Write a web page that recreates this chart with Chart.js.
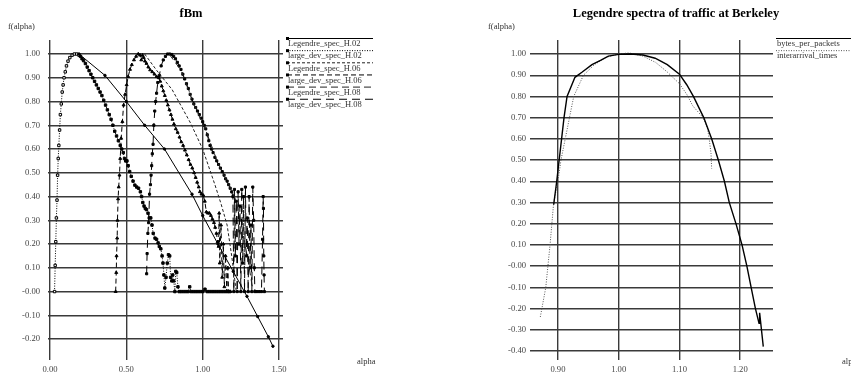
<!DOCTYPE html>
<html>
<head>
<meta charset="utf-8">
<script src="https://cdn.jsdelivr.net/npm/chart.js@4.4.0/dist/chart.umd.min.js"></script>
<style>
  html, body { margin: 0; padding: 0; background: #fff; }
  #wrap { position: relative; width: 851px; height: 378px; overflow: hidden; }
  canvas { position: absolute; top: 0; }
  #left { left: 0; }
  #right { left: 430px; }
</style>
</head>
<body>
<div id="wrap">
  <canvas id="left" width="430" height="378"></canvas>
  <canvas id="right" width="421" height="378"></canvas>
</div>
<script>
// ---- fBm panel ----
const fbmXTicks = [0, 0.5, 1.0, 1.5]
const fbmXLabels = ['0.00', '0.50', '1.00', '1.50']
const fbmYTicks = [-0.2, -0.1, 0, 0.1, 0.2, 0.3, 0.4, 0.5, 0.6, 0.7, 0.8, 0.9, 1.0]
const fbmYLabels = ['-0.20', '-0.10', '-0.00', '0.10', '0.20', '0.30', '0.40', '0.50', '0.60', '0.70', '0.80', '0.90', '1.00']

const legendreH02 = [[0.19,1.0],[0.36,0.91],[0.50,0.80],[0.62,0.70],[0.75,0.60],[0.93,0.41],[1.00,0.32],
  [1.10,0.20],[1.20,0.085],[1.29,-0.02],[1.36,-0.105],[1.43,-0.19],[1.46,-0.23]]

const largeDevH02 = [[0.030,0.00],[0.034,0.11],[0.038,0.21],[0.042,0.31],[0.046,0.385],[0.050,0.49],[0.054,0.56],
  [0.058,0.615],[0.063,0.68],[0.068,0.745],[0.074,0.79],[0.080,0.84],[0.086,0.87],[0.092,0.90],[0.100,0.925],
  [0.108,0.95],[0.118,0.97],[0.130,0.985],[0.145,0.995],[0.160,1.0],[0.175,1.0],[0.190,0.995],[0.200,0.99],
  [0.210,0.98],[0.220,0.972],[0.232,0.96],[0.244,0.945],[0.256,0.93],[0.268,0.915],[0.280,0.90],[0.292,0.885],
  [0.304,0.87],[0.316,0.855],[0.328,0.84],[0.340,0.825],[0.352,0.805],[0.364,0.785],[0.376,0.765],[0.388,0.745],
  [0.400,0.725],[0.412,0.70],[0.424,0.675],[0.436,0.655],[0.448,0.635],[0.460,0.615],[0.470,0.60],[0.480,0.585],
  [0.488,0.56],[0.496,0.55],[0.504,0.55],[0.512,0.53],[0.522,0.505],[0.532,0.485],[0.544,0.465],[0.556,0.448],
  [0.568,0.44],[0.580,0.435],[0.592,0.42],[0.600,0.40],[0.608,0.375],[0.616,0.36],[0.624,0.35],[0.632,0.345],
  [0.642,0.33],[0.650,0.31],[0.660,0.31],[0.668,0.28],[0.676,0.245],[0.688,0.225],[0.698,0.22],[0.708,0.205],
  [0.716,0.19],[0.726,0.18],[0.734,0.15],[0.740,0.12],[0.746,0.07],[0.752,0.015],[0.760,0.06],[0.768,0.12],
  [0.776,0.155],[0.784,0.15],[0.790,0.06],[0.798,0.045],[0.804,0.07],[0.810,0.045],[0.818,0.0],[0.824,0.085],
  [0.830,0.08],[0.838,0.02],[0.846,0.0],[0.860,0.0],[0.875,0.0],[0.890,0.0],[0.905,0.0],[0.915,0.02],[0.925,0.0],
  [0.940,0.0],[0.955,0.0],[0.970,0.0],[0.985,0.0],[1.000,0.0],[1.015,0.01],[1.030,0.0],[1.045,0.0],[1.060,0.0],
  [1.075,0.0],[1.090,0.0],[1.105,0.0],[1.120,0.0],[1.135,0.0],[1.150,0.0],[1.165,0.0],[1.178,0.0]]

const legendreH06 = [[0.62,1.0],[0.70,0.93],[0.80,0.85],[0.92,0.71],[1.00,0.60],[1.08,0.45],[1.12,0.37],
  [1.16,0.28],[1.19,0.15],[1.21,0.05],[1.22,0.0]]

const largeDevH06 = [[0.430,0.0],[0.434,0.08],[0.436,0.15],[0.440,0.225],[0.442,0.30],[0.446,0.39],[0.450,0.44],
  [0.455,0.49],[0.460,0.56],[0.466,0.645],[0.474,0.715],[0.482,0.785],[0.492,0.83],[0.502,0.87],[0.512,0.905],
  [0.524,0.935],[0.536,0.955],[0.550,0.975],[0.564,0.99],[0.578,1.0],[0.590,0.995],[0.598,0.975],[0.606,0.995],
  [0.614,0.985],[0.622,0.97],[0.632,0.96],[0.644,0.945],[0.656,0.933],[0.670,0.925],[0.684,0.915],[0.698,0.905],
  [0.712,0.90],[0.722,0.885],[0.732,0.865],[0.742,0.845],[0.752,0.825],[0.762,0.805],[0.772,0.785],[0.782,0.765],
  [0.792,0.745],[0.802,0.725],[0.812,0.705],[0.824,0.685],[0.836,0.67],[0.848,0.65],[0.860,0.63],[0.872,0.615],
  [0.884,0.595],[0.896,0.575],[0.908,0.555],[0.920,0.535],[0.932,0.52],[0.944,0.50],[0.954,0.48],[0.964,0.46],
  [0.974,0.44],[0.982,0.42],[0.992,0.41],[1.004,0.405],[1.014,0.38],[1.024,0.335],[1.034,0.33],[1.044,0.33],
  [1.054,0.32],[1.064,0.305],[1.074,0.29],[1.082,0.27],[1.090,0.245],[1.098,0.21],[1.104,0.19],[1.108,0.33],
  [1.112,0.12],[1.120,0.28],[1.128,0.06],[1.135,0.20],[1.142,0.02],[1.150,0.15],[1.158,0.0],[1.165,0.10],
  [1.170,0.0],[1.180,0.0]]

const legendreH08 = [[0.78,1.0],[0.86,0.93],[0.94,0.79],[1.02,0.68],[1.10,0.54],[1.18,0.44],[1.22,0.38],
  [1.26,0.26],[1.30,0.12],[1.33,0.0]]

const largeDevH08 = [[0.633,0.075],[0.636,0.16],[0.641,0.245],[0.646,0.29],[0.652,0.41],[0.658,0.45],[0.662,0.49],
  [0.666,0.53],[0.670,0.58],[0.675,0.62],[0.680,0.70],[0.686,0.76],[0.692,0.80],[0.698,0.835],[0.706,0.88],
  [0.716,0.91],[0.728,0.95],[0.742,0.975],[0.756,0.99],[0.770,1.0],[0.784,1.0],[0.798,0.998],[0.810,0.99],
  [0.822,0.98],[0.834,0.965],[0.846,0.95],[0.858,0.935],[0.870,0.915],[0.882,0.895],[0.894,0.875],[0.906,0.855],
  [0.918,0.83],[0.930,0.81],[0.942,0.79],[0.954,0.775],[0.966,0.76],[0.978,0.745],[0.990,0.73],[1.000,0.715],
  [1.010,0.70],[1.020,0.685],[1.030,0.66],[1.040,0.635],[1.048,0.615],[1.058,0.60],[1.068,0.585],[1.080,0.565],
  [1.092,0.55],[1.104,0.535],[1.116,0.52],[1.128,0.505],[1.140,0.49],[1.150,0.475],[1.160,0.465],[1.170,0.45],
  [1.180,0.435],[1.190,0.42],[1.198,0.40],[1.204,0.0],[1.208,0.43],[1.214,0.15],[1.220,0.38],[1.226,0.0],
  [1.232,0.42],[1.238,0.20],[1.244,0.36],[1.250,0.0],[1.256,0.43],[1.262,0.12],[1.268,0.40],[1.274,0.0],
  [1.280,0.44],[1.286,0.15],[1.292,0.31],[1.298,0.0],[1.304,0.40],[1.310,0.10],[1.316,0.28],[1.322,0.0],
  [1.328,0.44],[1.334,0.30],[1.338,0.10],[1.342,0.0],[1.355,0.0],[1.370,0.0],[1.385,0.0],[1.392,0.22],
  [1.396,0.40],[1.398,0.35],[1.400,0.15],[1.402,0.07],[1.404,0.0]]

// ---- Berkeley panel ----
const berkXTicks = [0.9, 1.0, 1.1, 1.2]
const berkXLabels = ['0.90', '1.00', '1.10', '1.20']
const berkYTicks = [-0.4, -0.3, -0.2, -0.1, 0, 0.1, 0.2, 0.3, 0.4, 0.5, 0.6, 0.7, 0.8, 0.9, 1.0]
const berkYLabels = ['-0.40', '-0.30', '-0.20', '-0.10', '-0.00', '0.10', '0.20', '0.30', '0.40', '0.50', '0.60', '0.70', '0.80', '0.90', '1.00']

const bytesPerPackets = [[0.893,0.29],[0.898,0.40],[0.902,0.50],[0.906,0.60],[0.910,0.70],[0.915,0.80],
  [0.928,0.89],[0.940,0.915],[0.956,0.95],[0.970,0.97],[0.983,0.99],[1.000,0.998],[1.020,1.0],[1.040,0.995],
  [1.060,0.98],[1.080,0.95],[1.100,0.905],[1.112,0.855],[1.123,0.80],[1.140,0.70],[1.153,0.60],[1.164,0.50],
  [1.174,0.40],[1.182,0.30],[1.193,0.20],[1.203,0.10],[1.211,0.0],[1.218,-0.10],[1.225,-0.20],[1.231,-0.27],
  [1.232,-0.22],[1.238,-0.38]]

const interarrivalTimes = [[0.871,-0.24],[0.880,-0.10],[0.887,0.10],[0.893,0.30],[0.900,0.40],[0.905,0.50],
  [0.912,0.60],[0.919,0.70],[0.926,0.80],[0.942,0.90],[0.960,0.95],[0.980,0.985],[1.000,1.0],[1.017,1.005],
  [1.040,0.99],[1.061,0.96],[1.080,0.915],[1.100,0.86],[1.112,0.81],[1.122,0.755],[1.139,0.70],[1.146,0.65],
  [1.149,0.60],[1.152,0.53],[1.153,0.46]]

const SERIF = "'Liberation Serif', 'DejaVu Serif', serif"

function series(label, pts, style) {
  return Object.assign({
    label: label,
    data: pts.map(p => ({ x: p[0], y: p[1] })),
    showLine: true,
    borderColor: '#000',
    backgroundColor: '#000',
    borderWidth: 1,
    pointRadius: 0,
    tension: 0
  }, style)
}

// titles, axis names and the line-over-text legend
const decor = {
  id: 'decor',
  afterDraw(chart, args, opts) {
    const ctx = chart.ctx
    ctx.save()
    ctx.fillStyle = '#000'
    ctx.font = 'bold 12.5px ' + SERIF
    ctx.textAlign = 'center'
    ctx.textBaseline = 'middle'
    ctx.fillText(opts.title, opts.titleX, 14)

    ctx.font = '8.5px ' + SERIF
    ctx.fillStyle = '#333'
    ctx.textAlign = 'left'
    ctx.fillText('f(alpha)', opts.yNameX, 27)
    ctx.fillText('alpha', opts.xNameX, 362)

    chart.data.datasets.forEach((ds, i) => {
      const y = 38.5 + i * 12.15
      ctx.strokeStyle = ds.borderColor
      ctx.lineWidth = 1
      ctx.setLineDash(ds.borderDash || [])
      ctx.beginPath()
      ctx.moveTo(opts.legendX, y)
      ctx.lineTo(opts.legendX + 86, y)
      ctx.stroke()
      ctx.setLineDash([])
      if (opts.legendMarks) {
        ctx.fillStyle = '#000'
        ctx.fillRect(opts.legendX - 1, y - 1.5, 3, 3)
      }
      ctx.fillStyle = '#333'
      ctx.fillText(ds.label, opts.legendX + 1, y + 5.5)
    })
    ctx.restore()
  }
}

function makeScales(xr, yr, xTicks, xLabels, yTicks, yLabels, yWidth, yPad) {
  const tickFont = { family: SERIF, size: 8.6 }
  const grid = { color: '#3a3a3a', lineWidth: 1.4, drawTicks: false }
  return {
    x: {
      type: 'linear', min: xr[0], max: xr[1],
      border: { display: false },
      grid: grid,
      ticks: { autoSkip: false, maxRotation: 0, padding: 5, color: '#444', font: tickFont,
        callback: (v, i) => xLabels[i] },
      afterBuildTicks: axis => { axis.ticks = xTicks.map(value => ({ value })) },
      afterFit: axis => { axis.height = 18 }
    },
    y: {
      type: 'linear', min: yr[0], max: yr[1],
      border: { display: false },
      grid: grid,
      ticks: { autoSkip: false, padding: yPad, color: '#444', font: tickFont,
        callback: (v, i) => yLabels[i] },
      afterBuildTicks: axis => { axis.ticks = yTicks.map(value => ({ value })) },
      afterFit: axis => { axis.width = yWidth }
    }
  }
}

new Chart(document.getElementById('left'), {
  type: 'scatter',
  data: {
    datasets: [
      series('Legendre_spec_H.02', legendreH02, { pointRadius: 1.2 }),
      // sparse open squares on the rising side, dense (dark) ones after the peak
      series('large_dev_spec_H.02', largeDevH02, { borderDash: [1, 1.5], pointStyle: 'rect', pointRadius: 1.7,
        pointBackgroundColor: c => (c.raw && c.raw.x < 0.2 ? '#fff' : '#000'),
        pointBorderColor: '#000', pointBorderWidth: 1 }),
      series('Legendre_spec_H.06', legendreH06, { borderDash: [3, 2], borderColor: '#222' }),
      series('large_dev_spec_H.06', largeDevH06, { borderDash: [5, 3], pointStyle: 'triangle', pointRadius: 1.7 }),
      series('Legendre_spec_H.08', legendreH08, { borderDash: [7, 4], borderColor: '#222' }),
      series('large_dev_spec_H.08', largeDevH08, { borderDash: [8, 5], pointStyle: 'rect', pointRadius: 1.5 })
    ]
  },
  options: {
    responsive: false,
    animation: false,
    devicePixelRatio: 1,
    layout: { padding: { left: 0, right: 147, top: 40, bottom: 0 } },
    plugins: {
      legend: { display: false },
      tooltip: { enabled: false },
      decor: { title: 'fBm', titleX: 191, yNameX: 8, xNameX: 357, legendX: 287, legendMarks: true }
    },
    scales: makeScales([-0.013, 1.526], [-0.288, 1.059], fbmXTicks, fbmXLabels, fbmYTicks, fbmYLabels, 48, 8)
  },
  plugins: [decor]
})

new Chart(document.getElementById('right'), {
  type: 'scatter',
  data: {
    datasets: [
      series('bytes_per_packets', bytesPerPackets, { borderWidth: 1.4 }),
      series('interarrival_times', interarrivalTimes, { borderDash: [1, 1.5], borderColor: '#555' })
    ]
  },
  options: {
    responsive: false,
    animation: false,
    devicePixelRatio: 1,
    layout: { padding: { left: 0, right: 78, top: 40, bottom: 0 } },
    plugins: {
      legend: { display: false },
      tooltip: { enabled: false },
      decor: { title: 'Legendre spectra of traffic at Berkeley', titleX: 246, yNameX: 58, xNameX: 412, legendX: 346, legendMarks: false }
    },
    scales: makeScales([0.854, 1.254], [-0.443, 1.066], berkXTicks, berkXLabels, berkYTicks, berkYLabels, 100, 4)
  },
  plugins: [decor]
})
</script>
</body>
</html>
